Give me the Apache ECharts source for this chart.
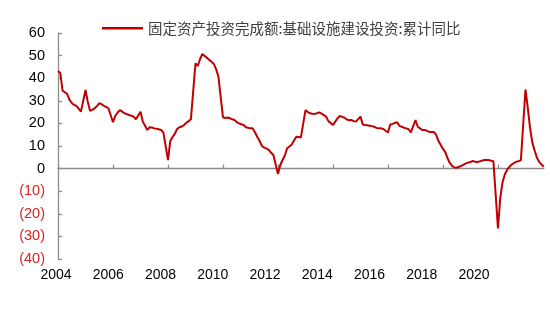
<!DOCTYPE html>
<html><head><meta charset="utf-8">
<script src="https://cdn.jsdelivr.net/npm/echarts@6/dist/echarts.min.js"></script>
<style>html,body{margin:0;padding:0;background:#fff}#c{width:550px;height:310px}</style>
</head><body><div id="c"></div>
<script>
const seriesName = '固定资产投资完成额:基础设施建设投资:累计同比';
// Monthly cumulative YoY (%), Feb..Dec of each year (January is not published)
const v2004 = [43.2, 42.3, 34.5, 33.8, 33.0, 30.5, 29.0, 28.2, 27.8, 26.5, 25.2];
const v2005 = [34.8, 29.5, 25.6, 26.0, 26.7, 27.6, 28.9, 28.5, 27.8, 27.3, 26.7];
const v2006 = [20.5, 23.3, 24.8, 25.9, 25.2, 24.5, 24.1, 23.7, 23.4, 23.0, 21.8];
const v2007 = [25.2, 20.8, 19.0, 17.1, 18.3, 18.2, 17.8, 17.6, 17.4, 17.1, 15.9];
const v2008 = [3.8, 12.2, 14.0, 15.5, 17.5, 18.3, 18.6, 19.3, 20.3, 21.0, 21.8];
const v2009 = [46.6, 45.4, 48.5, 50.7, 49.8, 49.0, 48.1, 47.3, 46.3, 44.0, 40.7];
const v2010 = [22.7, 22.4, 22.6, 22.3, 21.8, 21.5, 20.6, 20.0, 19.6, 19.3, 18.3];
const v2011 = [17.8, 17.8, 16.0, 14.0, 12.2, 10.0, 9.3, 8.8, 8.3, 7.0, 6.0];
const v2012 = [-2.4, 1.6, 3.8, 5.8, 9.0, 9.8, 10.7, 12.4, 14.1, 14.0, 13.8];
const v2013 = [25.9, 25.0, 24.5, 24.3, 24.2, 24.5, 24.9, 24.3, 23.7, 23.0, 21.0];
const v2014 = [19.3, 20.8, 22.3, 23.3, 22.9, 22.5, 21.8, 21.4, 21.5, 21.0, 20.8];
const v2015 = [23.0, 19.5, 19.3, 19.2, 19.0, 18.8, 18.5, 18.0, 17.8, 17.8, 17.5];
const v2016 = [16.0, 19.5, 19.8, 20.2, 20.5, 18.9, 18.5, 18.1, 17.8, 17.4, 16.0];
const v2017 = [21.5, 18.5, 17.8, 17.1, 17.1, 16.8, 16.2, 16.2, 16.2, 15.0, 12.3];
const v2018 = [8.7, 7.3, 4.6, 2.5, 1.2, 0.5, 0.4, 0.8, 1.2, 1.8, 2.3];
const v2019 = [2.9, 3.4, 3.0, 2.9, 3.2, 3.5, 3.8, 3.8, 3.8, 3.5, 3.3];
const v2020 = [-26.5, -13.0, -6.0, -2.5, -0.5, 0.8, 1.8, 2.5, 3.0, 3.3, 3.7];
const v2021 = [35.0, 27.0, 18.0, 11.5, 8.0, 4.8, 3.0, 1.8, 0.8];
const yearValues = [v2004, v2005, v2006, v2007, v2008, v2009, v2010, v2011, v2012,
  v2013, v2014, v2015, v2016, v2017, v2018, v2019, v2020, v2021];
const firstYear = 2004;
const xTickLabels = [2004, 2006, 2008, 2010, 2012, 2014, 2016, 2018, 2020];
const yTicks = { min: -40, max: 60, step: 10 };

const categories = [];
const values = [];
yearValues.forEach((arr, yi) => {
  const y = firstYear + yi;
  if (yi > 0) { categories.push(y + '-01'); values.push(null); }
  arr.forEach((v, k) => {
    const m = k + 2;
    categories.push(y + '-' + (m < 10 ? '0' + m : m));
    values.push(v);
  });
});

const chart = echarts.init(document.getElementById('c'), null, { renderer: 'canvas' });
chart.setOption({
  animation: false,
  backgroundColor: '#fff',
  legend: {
    data: [{ name: seriesName, icon: 'rect' }],
    left: 97, top: 16,
    itemWidth: 41, itemHeight: 2.5,
    textStyle: { fontSize: 14.5, color: '#404040', fontFamily: 'Noto Sans CJK SC' }
  },
  grid: [
    { left: 58, right: 6.2, top: 33, bottom: 51 },
    { left: 56, width: 418, top: 33, bottom: 51 }
  ],
  xAxis: [
    {
      type: 'category', data: categories, boundaryGap: false,
      axisLine: { onZero: true, lineStyle: { color: '#8c8c8c', width: 1.3 } },
      axisTick: { show: true, inside: true, length: 4, interval: (i) => i % 24 === 0,
        lineStyle: { color: '#8c8c8c', width: 1.3 } },
      axisLabel: { show: false },
      splitLine: { show: false }
    },
    {
      gridIndex: 1, type: 'value', min: xTickLabels[0], max: xTickLabels[xTickLabels.length - 1], interval: 2,
      axisLine: { show: false }, axisTick: { show: false }, splitLine: { show: false },
      axisLabel: { margin: 9, fontSize: 14, color: '#000', fontFamily: 'Liberation Sans',
        formatter: (v) => String(v) }
    }
  ],
  yAxis: [
    {
      type: 'value', min: yTicks.min, max: yTicks.max, interval: yTicks.step,
      axisLine: { show: true, lineStyle: { color: '#8c8c8c', width: 1.3 } },
      axisTick: { show: true, inside: true, length: 4, lineStyle: { color: '#8c8c8c', width: 1.3 } },
      splitLine: { show: false },
      axisLabel: {
        margin: 13, fontSize: 14.5, fontFamily: 'Liberation Sans',
        formatter: (v) => v < 0 ? '(' + (-v) + ')' : String(v),
        color: (v) => parseFloat(v) < 0 ? '#E02020' : '#000'
      }
    },
    { gridIndex: 1, type: 'value', min: 0, max: 1, show: false }
  ],
  series: [{
    name: seriesName, type: 'line', data: values,
    connectNulls: true, symbol: 'none',
    lineStyle: { color: '#C00000', width: 2 },
    itemStyle: { color: '#C00000' }
  }]
});
</script></body></html>
